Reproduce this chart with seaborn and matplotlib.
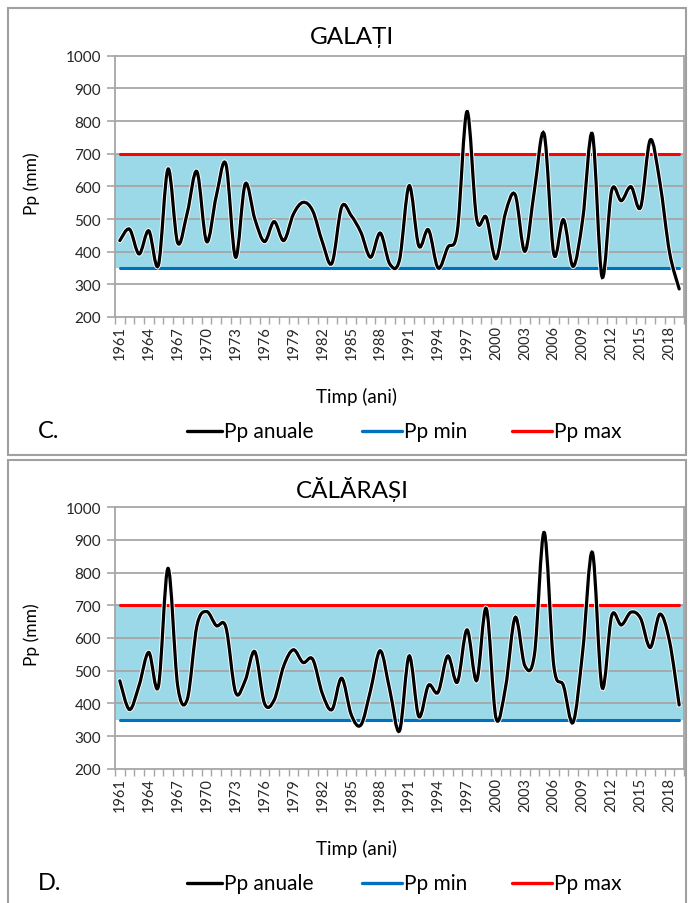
import numpy as np
import pandas as pd
import matplotlib
matplotlib.use("Agg")
import matplotlib.pyplot as plt
import seaborn as sns
from matplotlib.path import Path
from matplotlib.patches import PathPatch, Rectangle
from matplotlib.lines import Line2D

# ---- data -------------------------------------------------------------
years = list(range(1961, 2020))
tick_years = years[::3]

galati = [434, 469, 393, 464, 359, 653, 427, 520, 645, 431,
          570, 668, 383, 607, 500, 431, 492, 434, 515, 551,
          525, 430, 365, 537, 510, 459, 383, 457, 362, 375,
          602, 418, 467, 350, 413, 464, 829, 500, 505, 378,
          520, 574, 401, 590, 760, 393, 498, 355, 500, 760,
          323, 587, 556, 599, 536, 742, 612, 398, 286]

calarasi = [469, 381, 455, 556, 452, 813, 454, 413, 638, 681,
            638, 633, 434, 470, 558, 400, 410, 515, 564, 525,
            535, 430, 381, 477, 365, 334, 440, 561, 440, 316,
            545, 360, 455, 434, 545, 465, 625, 470, 690, 356,
            450, 663, 515, 551, 923, 515, 454, 342, 560, 862,
            449, 668, 640, 679, 660, 571, 673, 590, 395]

pp_min = 350
pp_max = 700

stations = ["GALAȚI", "CĂLĂRAȘI"]
panel_letters = ["C.", "D."]
series = [galati, calarasi]
legend_labels = ["Pp anuale", "Pp min", "Pp max"]

# ---- style ------------------------------------------------------------
sns.set_style("white")
plt.rcParams["font.family"] = ["Lato", "DejaVu Sans"]

GRID = "#a6a6a6"
TXT = "#262626"
FILL = "#9bd9e9"
RED = "#ff0000"
BLUE = "#0070c0"

W, H = 691, 904
fig = plt.figure(figsize=(W / 100, H / 100), dpi=100)


def fx(px):
    return px / W


def fy(py):
    return 1 - py / H


def smooth_path(xs, ys):
    """Cubic Bezier path through the points (smoothed line)."""
    pts = np.column_stack([xs, ys]).astype(float)
    n = len(pts)
    verts = [pts[0]]
    codes = [Path.MOVETO]
    for i in range(n - 1):
        p0 = pts[i - 1] if i > 0 else pts[i]
        p1 = pts[i]
        p2 = pts[i + 1]
        p3 = pts[i + 2] if i + 2 < n else pts[i + 1]
        c1 = p1 + (p2 - p0) / 6.0
        c2 = p2 - (p3 - p1) / 6.0
        verts += [c1, c2, p2]
        codes += [Path.CURVE4] * 3
    return Path(verts, codes)


# pixel geometry of each panel
panels = [
    dict(plot_top=56.7, plot_bot=318.0, box_top=9, box_bot=456),
    dict(plot_top=508.3, plot_bot=769.7, box_top=461, box_bot=906),
]
x_left, x_right = 115, 684
legend_items = [(187, 222, "black"), (362, 402, BLUE), (512, 552, RED)]

for name, letter, vals, geo in zip(stations, panel_letters, series, panels):
    # outer frame of the panel
    fig.patches.append(Rectangle((fx(8), fy(geo["box_bot"])),
                                 (686 - 8) / W, (geo["box_bot"] - geo["box_top"]) / H,
                                 transform=fig.transFigure, fill=False,
                                 edgecolor="#a0a0a0", linewidth=1.5, zorder=0))

    ax = fig.add_axes([fx(x_left), fy(geo["plot_bot"]),
                       (x_right - x_left) / W, (geo["plot_bot"] - geo["plot_top"]) / H])
    idx = np.arange(len(years))
    df = pd.DataFrame({"idx": idx, "an": years, "pp": vals,
                       "pmin": pp_min, "pmax": pp_max})

    ax.set_xlim(-0.5, len(years) - 0.5)
    ax.set_ylim(200, 1000)

    # band between minimum and maximum
    ax.fill_between([-0.5, len(years) - 0.5], pp_min, pp_max, color=FILL,
                    linewidth=0, zorder=0.5)
    for yv in range(300, 1000, 100):
        ax.axhline(yv, color=GRID, linewidth=1.3, zorder=1)

    sns.lineplot(data=df, x="idx", y="pmin", color=BLUE, linewidth=2.2, ax=ax, zorder=2)
    sns.lineplot(data=df, x="idx", y="pmax", color=RED, linewidth=2.2, ax=ax, zorder=2)

    path = smooth_path(df["idx"].values, df["pp"].values)
    ax.add_patch(PathPatch(path, facecolor="none", edgecolor="white",
                           linewidth=3.6, zorder=3, capstyle="round"))
    ax.add_patch(PathPatch(path, facecolor="none", edgecolor="black",
                           linewidth=2.3, zorder=4, capstyle="round"))

    for s in ax.spines.values():
        s.set_color(GRID)
        s.set_linewidth(1.3)

    ax.set_yticks(range(200, 1001, 100))
    ax.set_yticklabels([str(v) for v in range(200, 1001, 100)], fontsize=11, color=TXT)
    ax.set_xticks([years.index(y) for y in tick_years])
    ax.set_xticklabels([str(y) for y in tick_years], rotation=90, fontsize=10.5, color=TXT)
    ax.set_xticks(np.arange(-0.5, len(years), 1), minor=True)
    ax.tick_params(axis="y", which="major", direction="out", length=6, width=1.2,
                   color=GRID, pad=4, left=True)
    ax.tick_params(axis="x", which="major", length=0, pad=6, bottom=True)
    ax.tick_params(axis="x", which="minor", direction="out", length=5, width=1.0,
                   color=GRID, bottom=True)

    ax.set_xlabel("")
    ax.set_ylabel("")
    ax.set_title("")

    fig.text(fx(352), fy(geo["box_top"] + 29), name, ha="center", va="center",
             fontsize=17.5, color="black")
    fig.text(fx(32), fy((geo["plot_top"] + geo["plot_bot"]) / 2 - 4), "Pp (mm)",
             rotation=90, ha="center", va="center", fontsize=12.5, color="black")
    fig.text(fx(356), fy(geo["plot_bot"] + 79), "Timp (ani)", ha="center",
             va="center", fontsize=13.5, color="black")
    fig.text(fx(38), fy(geo["plot_bot"] + 114), letter, ha="left", va="center",
             fontsize=17, color="black")

    # legend row
    ly = fy(geo["plot_bot"] + 114)
    for (x0, x1, col), lab in zip(legend_items, legend_labels):
        fig.add_artist(Line2D([fx(x0), fx(x1)], [ly, ly], color=col, linewidth=2.4,
                              transform=fig.transFigure))
        fig.text(fx(x1 + 2), ly, lab, ha="left", va="center", fontsize=15,
                 color="black")

fig.savefig("out.png", dpi=100)
